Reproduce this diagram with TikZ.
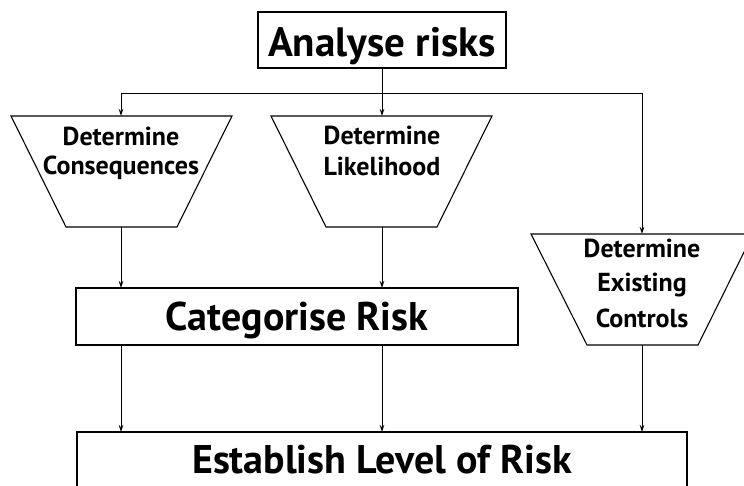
\documentclass[tikz,border=0pt]{standalone}
\usepackage{fontspec}
\setmainfont{PT Sans}
\usetikzlibrary{arrows.meta}
\begin{document}
\begin{tikzpicture}[x=1pt,y=-1pt,
  every path/.style={line width=1.1pt},
  shapeline/.style={draw=black,line width=1.1pt},
  arr/.style={-{Stealth[length=7pt,width=4.5pt]},line width=1pt},
  ln/.style={line width=1pt},
  bigtxt/.style={font=\fontsize{40}{44}\selectfont\bfseries,anchor=base,inner sep=0pt},
  toptxt/.style={font=\fontsize{41}{46}\selectfont\bfseries,anchor=base,inner sep=0pt},
  smalltxt/.style={font=\fontsize{26}{30}\selectfont\bfseries,anchor=base,inner sep=0pt}]
\useasboundingbox (0,0) rectangle (744,485);
% boxes
\draw[shapeline] (258,12) rectangle (506,68);
\node[toptxt] (analyse) at (382,56) {Analyse risks};
\coordinate (analyseB) at (382,68);
% trapezia
\draw[shapeline] (11,116) -- (232,116) -- (177,227) -- (66,227) -- cycle;
\coordinate (consT) at (121,116);
\coordinate (consB) at (121,227);
\node[smalltxt] (cons1) at (121,145) {Determine};
\node[smalltxt] (cons2) at (121,174) {Consequences};
\draw[shapeline] (271,116) -- (492,116) -- (437,227) -- (326,227) -- cycle;
\coordinate (likeT) at (382,116);
\coordinate (likeB) at (382,227);
\node[smalltxt] (like1) at (382,144) {Determine};
\node[smalltxt] (like2) at (382,175) {Likelihood};
\draw[shapeline] (531,234) -- (753,234) -- (698,345) -- (587,345) -- cycle;
\coordinate (ctrlT) at (642,234);
\coordinate (ctrlB) at (642,345);
\node[smalltxt] (ctrl1) at (642,257) {Determine};
\node[smalltxt] (ctrl2) at (642,291) {Existing};
\node[smalltxt] (ctrl3) at (642,327) {Controls};
% categorise
\draw[shapeline] (76,288) rectangle (518,345);
\node[bigtxt] (cat) at (297,330) {Categorise Risk};
\coordinate (catT1) at (121,288);
\coordinate (catT2) at (382,288);
\coordinate (catB1) at (121,345);
\coordinate (catB2) at (382,345);
% establish
\draw[shapeline] (77,432) rectangle (687,520);
\node[bigtxt] (est) at (382,473) {Establish Level of Risk};
\coordinate (estT1) at (121,432);
\coordinate (estT2) at (382,432);
\coordinate (estT3) at (642,432);
% connectors
\coordinate (split) at (382,93);
\coordinate (splitL) at (121,93);
\coordinate (splitR) at (642,93);
\draw[arr] (analyseB) -- (likeT);
\draw[ln] (splitL) -- (splitR);
\draw[arr] (splitL) -- (consT);
\draw[arr] (splitR) -- (ctrlT);
\draw[arr] (consB) -- (catT1);
\draw[arr] (likeB) -- (catT2);
\draw[arr] (catB1) -- (estT1);
\draw[arr] (catB2) -- (estT2);
\draw[arr] (ctrlB) -- (estT3);
\end{tikzpicture}
\end{document}
